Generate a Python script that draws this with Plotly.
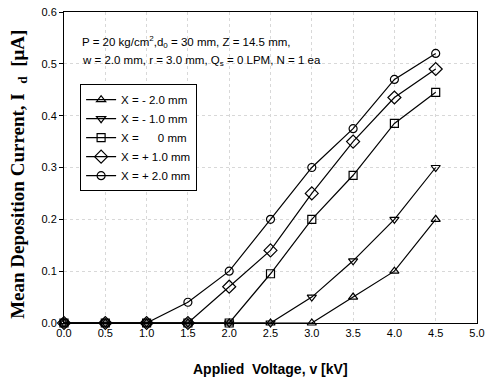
import plotly.graph_objects as go

voltage = [0.0, 0.5, 1.0, 1.5, 2.0, 2.5, 3.0, 3.5, 4.0, 4.5]
labels = ["X = - 2.0 mm", "X = - 1.0 mm", "X =      0 mm", "X = + 1.0 mm", "X = + 2.0 mm"]
x_m2 = [0, 0, 0, 0, 0, 0, 0, 0.05, 0.10, 0.20]
x_m1 = [0, 0, 0, 0, 0, 0, 0.05, 0.12, 0.20, 0.30]
x_0 = [0, 0, 0, 0, 0, 0.095, 0.20, 0.285, 0.385, 0.445]
x_p1 = [0, 0, 0, 0, 0.07, 0.14, 0.25, 0.35, 0.435, 0.49]
x_p2 = [0, 0, 0, 0.04, 0.10, 0.20, 0.30, 0.375, 0.47, 0.52]
series = [x_m2, x_m1, x_0, x_p1, x_p2]
symbols = ["triangle-up-open", "triangle-down-open", "square-open", "diamond-open", "circle-open"]
sizes = [8, 8, 8, 10, 8]

fig = go.Figure()
for lab, ys, sym, sz in zip(labels, series, symbols, sizes):
    fig.add_trace(go.Scatter(
        x=voltage, y=ys, name=lab, mode="lines+markers",
        line=dict(color="black", width=1.2),
        marker=dict(symbol=sym, size=sz, color="black", line=dict(width=1.2)),
        cliponaxis=False,
    ))

fig.update_layout(
    width=487, height=383,
    margin=dict(l=64, r=10, t=12, b=60, autoexpand=False),
    paper_bgcolor="white", plot_bgcolor="white",
    font=dict(family="Liberation Sans, Arial", size=11, color="black"),
    showlegend=True,
    legend=dict(
        x=0.039, y=0.768, xanchor="left", yanchor="top",
        bordercolor="black", borderwidth=1, bgcolor="white",
        font=dict(size=11.5, family="Liberation Sans, Arial"),
        tracegroupgap=0, itemwidth=30,
    ),
)
fig.update_xaxes(
    range=[0, 5], tick0=0, dtick=0.5, tickformat=".1f", automargin=False,
    showline=True, linecolor="black", linewidth=1, mirror=True,
    ticks="", showgrid=True, gridcolor="#d8d8d8", griddash="dot", gridwidth=1,
    zeroline=False, tickfont=dict(size=11),
)
fig.update_yaxes(
    range=[0, 0.6], tick0=0, dtick=0.1, tickformat=".1f", automargin=False,
    showline=True, linecolor="black", linewidth=1, mirror=True,
    ticks="outside", ticklen=4, tickcolor="black",
    showgrid=True, gridcolor="#d8d8d8", griddash="dot", gridwidth=1,
    zeroline=False, tickfont=dict(size=11),
)
fig.add_annotation(
    xref="paper", yref="paper", x=0.039, y=0.87, xanchor="left", yanchor="bottom",
    text="P = 20 kg/cm<sup>2</sup>,d<sub>0</sub> = 30 mm, Z = 14.5 mm,", showarrow=False,
    font=dict(size=11.5, family="Liberation Sans, Arial"),
)
fig.add_annotation(
    xref="paper", yref="paper", x=0.039, y=0.87, xanchor="left", yanchor="top",
    text="w = 2.0 mm, r = 3.0 mm, Q<sub>s</sub> = 0 LPM, N = 1 ea", showarrow=False,
    font=dict(size=11.5, family="Liberation Sans, Arial"),
)
fig.add_annotation(
    xref="paper", yref="paper", x=0.5, y=-0.115, xanchor="center", yanchor="top",
    text="<b>Applied  Voltage, v [kV]</b>", showarrow=False,
    font=dict(size=14, family="Liberation Sans, Arial"),
)
fig.add_annotation(
    xref="paper", yref="paper", x=-0.111, y=0.477, xanchor="center", yanchor="middle",
    text="<b>Mean Deposition Current, I  <sub>d</sub>  [μA]</b>", showarrow=False, textangle=-90,
    font=dict(size=19, family="Liberation Serif, Times New Roman"),
)
fig.write_html("out.html")
